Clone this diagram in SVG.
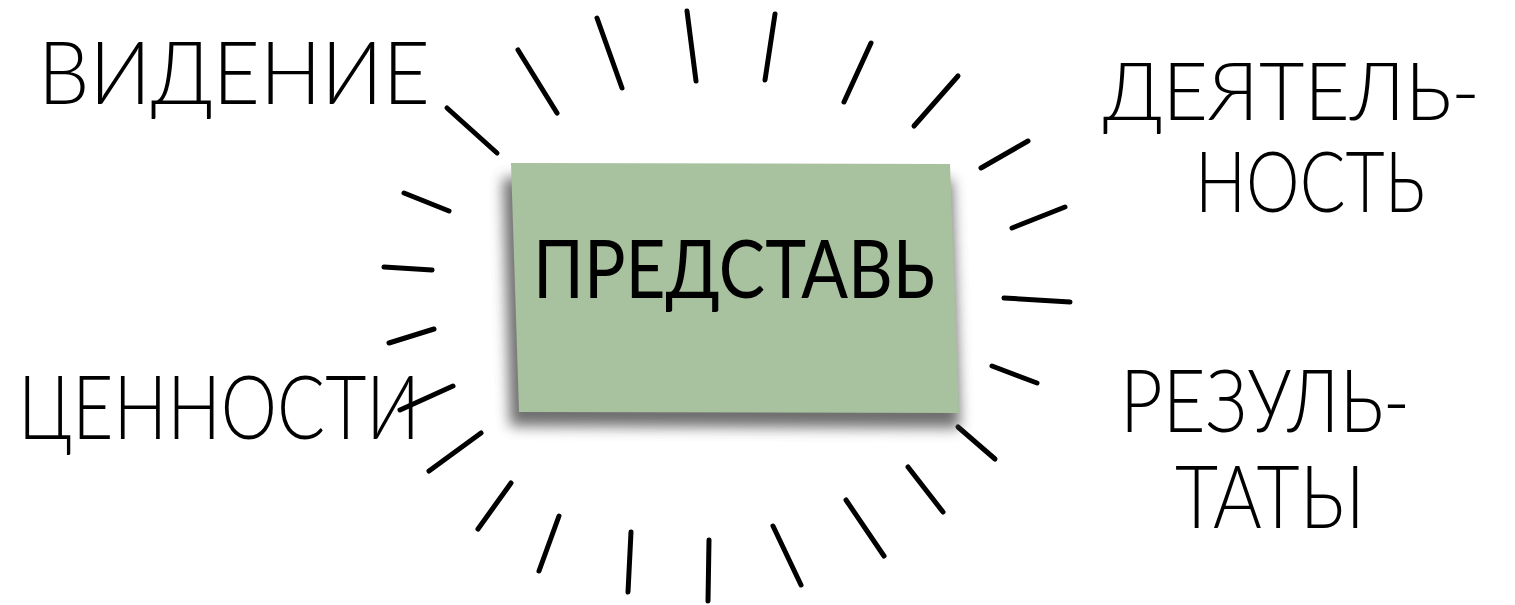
<svg xmlns="http://www.w3.org/2000/svg" width="1515" height="605" viewBox="0 0 1515 605">
<defs>
<filter id="shadow" x="-20%" y="-20%" width="140%" height="150%">
<feGaussianBlur stdDeviation="7"/>
</filter>
<style>
.ray{stroke:#000;stroke-width:5;stroke-linecap:round;fill:none}
.lbl{font-family:"Lato","Open Sans","Liberation Sans",sans-serif;font-weight:300;fill:#000}
.main{font-family:"Lato","Open Sans","Liberation Sans",sans-serif;font-weight:400;fill:#000}
</style>
</defs>
<rect width="1515" height="605" fill="#fff"/>
<g id="connectors">
<line class="ray" x1="447" y1="108" x2="497" y2="153"/>
<line class="ray" x1="518" y1="50" x2="557" y2="113"/>
<line class="ray" x1="597" y1="18" x2="622" y2="88"/>
<line class="ray" x1="687" y1="11" x2="696" y2="81"/>
<line class="ray" x1="775" y1="14" x2="765" y2="80"/>
<line class="ray" x1="871" y1="43" x2="844" y2="102"/>
<line class="ray" x1="958" y1="76" x2="914" y2="126"/>
<line class="ray" x1="1028" y1="141" x2="981" y2="168"/>
<line class="ray" x1="1065" y1="207" x2="1012" y2="228"/>
<line class="ray" x1="1004" y1="298" x2="1070" y2="302"/>
<line class="ray" x1="992" y1="366" x2="1037" y2="383"/>
<line class="ray" x1="958" y1="427" x2="995" y2="459"/>
<line class="ray" x1="908" y1="467" x2="943" y2="512"/>
<line class="ray" x1="846" y1="500" x2="884" y2="556"/>
<line class="ray" x1="773" y1="526" x2="801" y2="585"/>
<line class="ray" x1="709" y1="540" x2="708" y2="601"/>
<line class="ray" x1="631" y1="532" x2="628" y2="592"/>
<line class="ray" x1="559" y1="516" x2="539" y2="571"/>
<line class="ray" x1="511" y1="483" x2="478" y2="529"/>
<line class="ray" x1="481" y1="433" x2="429" y2="471"/>
<line class="ray" x1="453" y1="386" x2="400" y2="410"/>
<line class="ray" x1="434" y1="329" x2="389" y2="343"/>
<line class="ray" x1="384" y1="267" x2="432" y2="270"/>
<line class="ray" x1="404" y1="193" x2="449" y2="211"/>
</g>
<g id="note">
<polygon points="503,178 952,180 960,428 510,426" fill="#555" filter="url(#shadow)" opacity="0.85"/>
<polygon points="511,163 950,164 959,413 519,412" fill="#A8C19E"/>
<text class="main" x="533" y="298" font-size="82" textLength="402" lengthAdjust="spacingAndGlyphs">ПРЕДСТАВЬ</text>
</g>
<g id="vision">
<text class="lbl" x="38" y="104" font-size="86" textLength="392" lengthAdjust="spacingAndGlyphs">ВИДЕНИЕ</text>
</g>
<g id="activity">
<text class="lbl" x="1103" y="120" font-size="80" textLength="377" lengthAdjust="spacingAndGlyphs">ДЕЯТЕЛЬ-</text>
<text class="lbl" x="1195" y="212" font-size="84" textLength="230" lengthAdjust="spacingAndGlyphs">НОСТЬ</text>
</g>
<g id="values">
<text class="lbl" x="18" y="439" font-size="88" textLength="402" lengthAdjust="spacingAndGlyphs">ЦЕННОСТИ</text>
</g>
<g id="results">
<text class="lbl" x="1120" y="432" font-size="86" textLength="290" lengthAdjust="spacingAndGlyphs">РЕЗУЛЬ-</text>
<text class="lbl" x="1175" y="528" font-size="86" textLength="190" lengthAdjust="spacingAndGlyphs">ТАТЫ</text>
</g>
</svg>
